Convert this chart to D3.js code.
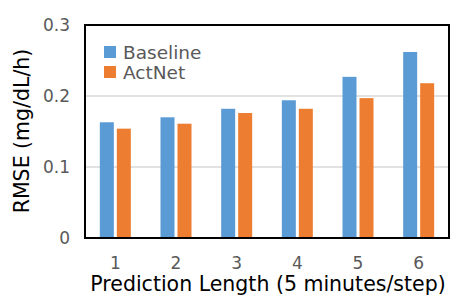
<!DOCTYPE html>
<html>
<head>
<meta charset="utf-8">
<script src="https://cdn.jsdelivr.net/npm/d3@7"></script>
<style>
body{margin:0;background:#fff;}
text{font-family:"DejaVu Sans",sans-serif;}
</style>
</head>
<body>
<svg id="chart" width="475" height="303"></svg>
<script>
var steps=['1','2','3','4','5','6'];
var baseline=[0.163,0.170,0.182,0.194,0.227,0.262];
var actnet=[0.154,0.161,0.176,0.182,0.197,0.218];
var series_names=['Baseline','ActNet'];
var series_colors=['#5b9bd5','#ed7d31'];
var yticks=[0,0.1,0.2,0.3];

var svg=d3.select('#chart');
var m_left=85,m_right=449,m_top=25,m_bottom=238;

var x0=d3.scaleBand().domain(steps).range([m_left,m_right]).padding(0);
var y=d3.scaleLinear().domain([0,0.3]).range([m_bottom,m_top]);

// gridlines
svg.append('g').selectAll('line').data(yticks.filter(function(d){return d>0 && d<0.3;}))
    .enter().append('line')
    .attr('x1',m_left).attr('x2',m_right)
    .attr('y1',function(d){return y(d);}).attr('y2',function(d){return y(d);})
    .style('stroke','#d9d9d9').style('stroke-width',1.5);

// bars
var bw=14, gap=3;
var all=[baseline,actnet];
all.forEach(function(vals,s){
    svg.append('g').selectAll('rect').data(vals).enter().append('rect')
        .attr('x',function(d,i){
            var c=x0(steps[i])+x0.bandwidth()/2;
            return s==0 ? c-gap/2-bw : c+gap/2;
        })
        .attr('y',function(d){return y(d);})
        .attr('width',bw)
        .attr('height',function(d){return m_bottom-y(d);})
        .style('fill',series_colors[s]);
});

// frame
svg.append('rect').attr('x',m_left).attr('y',m_top).attr('width',m_right-m_left).attr('height',m_bottom-m_top)
    .style('fill','none').style('stroke','#000').style('stroke-width',2);

// y tick labels
svg.append('g').selectAll('text').data(yticks).enter().append('text')
    .attr('x',70).attr('y',function(d){return y(d);})
    .attr('dy','0.36em')
    .style('text-anchor','end').style('font-size','17px').style('fill','#595959')
    .text(function(d){return d==0?'0':d3.format('.1f')(d);});

// x tick labels
svg.append('g').selectAll('text').data(steps).enter().append('text')
    .attr('x',function(d){return x0(d)+x0.bandwidth()/2;})
    .attr('y',269)
    .style('text-anchor','middle').style('font-size','17px').style('fill','#595959')
    .text(function(d){return d;});

// axis titles
svg.append('text').attr('x',(m_left+m_right)/2+1).attr('y',291)
    .style('text-anchor','middle').style('font-size','20.5px').style('fill','#000')
    .text('Prediction Length (5 minutes/step)');
svg.append('text').attr('transform','translate(29,131) rotate(-90)')
    .style('text-anchor','middle').style('font-size','20.5px').style('fill','#000')
    .text('RMSE (mg/dL/h)');

// legend
var lg=svg.append('g');
series_names.forEach(function(n,i){
    var yy=52+i*20;
    lg.append('rect').attr('x',104).attr('y',yy-6).attr('width',12).attr('height',12)
        .style('fill',series_colors[i]);
    lg.append('text').attr('x',123).attr('y',yy).attr('dy','0.36em')
        .style('font-size','18.5px').style('fill','#595959').text(n);
});
</script>
</body>
</html>
